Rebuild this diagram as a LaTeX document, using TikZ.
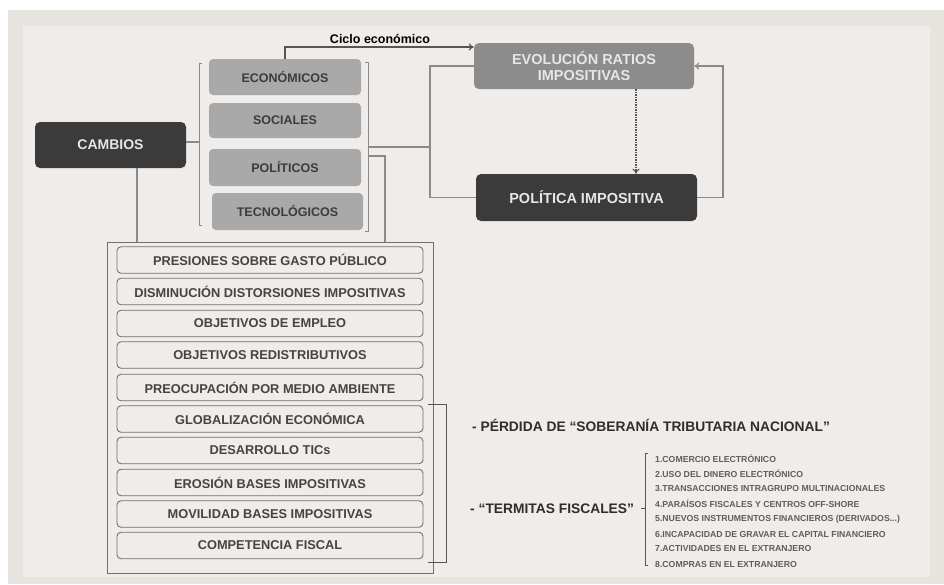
\documentclass[tikz,border=0pt]{standalone}
\usepackage{fontspec}
\setmainfont{Liberation Sans}
\usetikzlibrary{arrows.meta}
\definecolor{outerbg}{HTML}{E7E4DF}
\definecolor{innerbg}{HTML}{EFECE9}
\definecolor{boxgray}{HTML}{A9A9A9}
\definecolor{boxtext}{HTML}{3C3C3C}
\definecolor{evogray}{HTML}{8C8C8C}
\definecolor{darkbox}{HTML}{3B3B3B}
\definecolor{lighttext}{HTML}{E6E6E6}
\definecolor{linegray}{HTML}{8A8A8A}
\definecolor{darkline}{HTML}{555555}
\definecolor{itemline}{HTML}{707070}
\definecolor{itemtext}{HTML}{444444}
\definecolor{bigtext}{HTML}{2E2E2E}
\definecolor{smalltext}{HTML}{5E5E5E}
\begin{document}
\begin{tikzpicture}[x=1pt,y=-1pt,
  conn/.style={draw=linegray, line width=1.2pt},
  arr/.style={-{To[length=5pt,width=7pt]}},
  gbox/.style={rectangle, rounded corners=4pt, fill=boxgray, minimum width=152pt, minimum height=36pt, inner sep=0pt, font=\bfseries\fontsize{12.5}{14}\selectfont, text=boxtext},
  dbox/.style={rectangle, rounded corners=5pt, fill=darkbox, inner sep=0pt, text=lighttext, font=\bfseries\fontsize{14.5}{16}\selectfont, align=center},
  itembox/.style={rectangle, rounded corners=4pt, draw=itemline, line width=0.9pt, minimum width=306pt, minimum height=26.5pt, inner sep=0pt, font=\bfseries\fontsize{12.8}{14}\selectfont, text=itemtext},
  small/.style={anchor=west, inner sep=0pt, font=\bfseries\fontsize{8.7}{9}\selectfont, text=smalltext},
  big/.style={anchor=west, inner sep=0pt, font=\bfseries\fontsize{13.8}{15}\selectfont, text=bigtext}]
% background
\useasboundingbox (0,0) rectangle (944,584);
\fill[white] (0,0) rectangle (944,584);
\fill[outerbg] (8,10) rectangle (944,584);
\fill[innerbg] (23,26) rectangle (930,577);

% main nodes
\node[dbox, minimum width=151pt, minimum height=46pt, font=\bfseries\fontsize{14}{16}\selectfont] (cambios) at (110.5,145) {CAMBIOS};
\node[gbox] (eco) at (285,77) {ECONÓMICOS};
\node[gbox, minimum height=35pt] (soc) at (285,120.5) {SOCIALES};
\node[gbox, minimum height=37pt] (pol) at (285,167.5) {POLÍTICOS};
\node[gbox, minimum width=151pt, minimum height=37pt] (tec) at (287.5,211.5) {TECNOLÓGICOS};
\node[dbox, fill=evogray, minimum width=220pt, minimum height=46pt] (evo) at (584,66) {EVOLUCIÓN RATIOS\\IMPOSITIVAS};
\node[dbox, minimum width=221pt, minimum height=47pt] (poli) at (586.5,197.5) {POLÍTICA IMPOSITIVA};

% container and items
\node[draw=itemline, line width=0.9pt, minimum width=326pt, minimum height=331pt, inner sep=0pt] (cont) at (270,407.5) {};
\node[itembox] (i1) at (270,260) {PRESIONES SOBRE GASTO PÚBLICO};
\node[itembox] (i2) at (270,291.5) {DISMINUCIÓN DISTORSIONES IMPOSITIVAS};
\node[itembox] (i3) at (270,323.5) {OBJETIVOS DE EMPLEO};
\node[itembox] (i4) at (270,355) {OBJETIVOS REDISTRIBUTIVOS};
\node[itembox] (i5) at (270,387.5) {PREOCUPACIÓN POR MEDIO AMBIENTE};
\node[itembox] (i6) at (270,419) {GLOBALIZACIÓN ECONÓMICA};
\node[itembox] (i7) at (270,450.5) {DESARROLLO TICs};
\node[itembox] (i8) at (270,482.5) {EROSIÓN BASES IMPOSITIVAS};
\node[itembox] (i9) at (270,514) {MOVILIDAD BASES IMPOSITIVAS};
\node[itembox] (i10) at (270,545.5) {COMPETENCIA FISCAL};

% brackets
\draw[conn, line width=1pt] (202,63) -- (199,63) -- (199,225) -- (202,225);
\draw[conn, line width=1pt] (365,62) -- (368,62) -- (368,231) -- (365,231);
\draw[draw=darkline, line width=1pt] (428,404) -- (446,404) -- (446,562) -- (428,562);

% connectors
\coordinate (lbx) at (199,0);
\coordinate (cdown) at (137,0);
\coordinate (rj1) at (368,147);
\coordinate (rj2) at (368,156);
\coordinate (vx) at (430,0);
\coordinate (px) at (385,0);
\coordinate (cy) at (0,47);
\coordinate (dx) at (636,0);
\coordinate (fx) at (723,0);
\draw[conn] (cambios.east |- 0,142) -- (lbx |- 0,142);
\draw[conn] (cambios.south -| cdown) -- (cdown |- cont.north);
\draw[conn] (rj1) -- (rj1 -| vx);
\draw[conn] (evo.west) -- (evo.west -| vx) -- (poli.west -| vx) -- (poli.west);
\draw[conn] (rj2) -| (px |- cont.north);
\draw[draw=darkline, line width=1.2pt, arr] (eco.north) -- (eco.north |- cy) -- (evo.west |- cy);
\node[inner sep=0pt, font=\bfseries\fontsize{12.5}{14}\selectfont, text=black] (ciclo) at (380,39) {Ciclo económico};
\draw[draw=darkline, line width=1.1pt, dash pattern=on 1.5pt off 1pt, arr] (evo.south -| dx) -- (poli.north -| dx);
\draw[conn, arr] (poli.east) -- (poli.east -| fx) -- (evo.east -| fx) -- (evo.east);

% right texts
\node[big] (perdida) at (472,425) {- PÉRDIDA DE “SOBERANÍA TRIBUTARIA NACIONAL”};
\node[big] (termitas) at (470,509) {- “TERMITAS FISCALES”};
\draw[draw=darkline, line width=0.8pt] (648,453) -- (645,453) -- (645,565) -- (648,565);
\draw[draw=darkline, line width=0.8pt] (645,508) -- (641,508);
\node[small] (s1) at (655,459) {1.COMERCIO ELECTRÓNICO};
\node[small] (s2) at (655,474) {2.USO DEL DINERO ELECTRÓNICO};
\node[small] (s3) at (655,489) {3.TRANSACCIONES INTRAGRUPO MULTINACIONALES};
\node[small] (s4) at (655,504) {4.PARAÍSOS FISCALES Y CENTROS OFF-SHORE};
\node[small] (s5) at (655,519) {5.NUEVOS INSTRUMENTOS FINANCIEROS (DERIVADOS...)};
\node[small] (s6) at (655,534) {6.INCAPACIDAD DE GRAVAR EL CAPITAL FINANCIERO};
\node[small] (s7) at (655,548.5) {7.ACTIVIDADES EN EL EXTRANJERO};
\node[small] (s8) at (655,564) {8.COMPRAS EN EL EXTRANJERO};
\end{tikzpicture}
\end{document}
